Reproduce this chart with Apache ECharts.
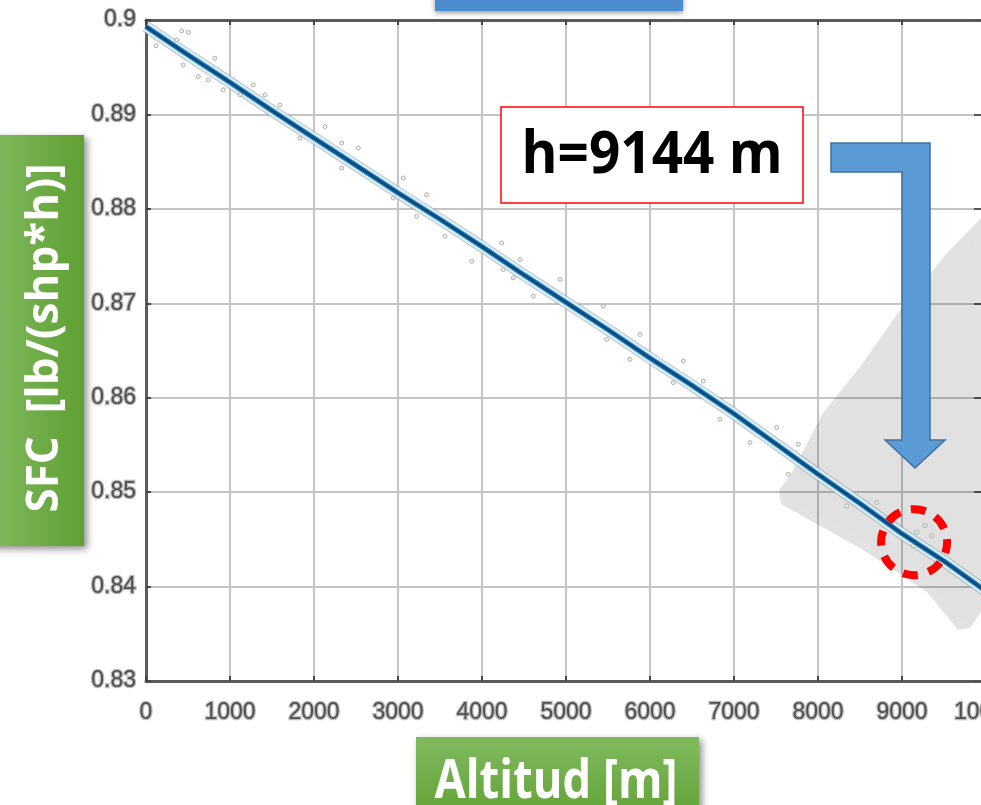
<!DOCTYPE html>
<html>
<head>
<meta charset="utf-8">
<script src="https://cdn.jsdelivr.net/npm/echarts@6/dist/echarts.min.js"></script>
<style>
  html, body { margin: 0; padding: 0; background: #ffffff; overflow: hidden; }
  #chart { width: 981px; height: 805px; }
</style>
</head>
<body>
<div id="chart"></div>
<script>
// Specific fuel consumption versus altitude
const altitudes = [0, 500, 1000, 1500, 2000, 2500, 3000, 3500, 4000, 4500, 5000,
                   5500, 6000, 6500, 7000, 7500, 8000, 8500, 9000, 9500, 10000];
const sfcValues = [0.8993, 0.8963, 0.8934, 0.8904, 0.8875, 0.8846, 0.8817, 0.8789, 0.8760, 0.8730, 0.8701,
                   0.8672, 0.8642, 0.8613, 0.8583, 0.8551, 0.8519, 0.8488, 0.8456, 0.8427, 0.8395];

// Scattered raw samples around the fitted curve
const sampleAlt = [425, 504, 365, 119, 444, 623, 742, 821, 920, 1119, 1417, 1278, 1595, 1833, 2131, 2330,
                   2330, 2528, 2944, 3063, 3341, 3222, 3560, 3877, 4234, 4452, 4254, 4373, 4611, 4929,
                   5444, 5484, 5762, 5881, 6397, 6278, 6635, 6833, 7190, 7508, 7647, 7766, 8342, 8699,
                   9135, 9274, 9354, 9175];
const sampleSfc = [0.89884, 0.89870, 0.89789, 0.89728, 0.89524, 0.89401, 0.89366, 0.89595, 0.89260, 0.89207,
                   0.89207, 0.89313, 0.89101, 0.88749, 0.88872, 0.88697, 0.88432, 0.88644, 0.88115, 0.88327,
                   0.88150, 0.87921, 0.87709, 0.87445, 0.87640, 0.87463, 0.87357, 0.87269, 0.87075, 0.87252,
                   0.86969, 0.86617, 0.86406, 0.86670, 0.86388, 0.86160, 0.86177, 0.85772, 0.85525, 0.85684,
                   0.85190, 0.85507, 0.84855, 0.84891, 0.84432, 0.84644, 0.84538, 0.84574];

const xTicks = { min: 0, max: 10000, step: 1000 };
const yTicks = { min: 0.83, max: 0.9, step: 0.01 };

// Highlighted cruise altitude
const cruiseAltitude = 9144;
const cruiseSfc = 0.8447;
const cruiseLabel = 'h=9144 m';
const xTitle = 'Altitud [m]';
const yTitle = 'SFC  [lb/(shp*h)]';

const curve = altitudes.map((a, i) => [a, sfcValues[i]]);
const samples = sampleAlt.map((a, i) => [a, sampleSfc[i]]);

const chart = echarts.init(document.getElementById('chart'), null, { renderer: 'canvas' });

const tickFont = {
  fontFamily: '"Liberation Sans", Arial, sans-serif',
  fontSize: 23,
  color: '#505050',
  textBorderColor: 'rgba(170,170,170,0.8)',
  textBorderWidth: 2.5
};
const frame = { color: '#5c5c5c', width: 3 };
const tick = { inside: true, length: 5, lineStyle: { color: '#444444', width: 2 } };
const gridLine = { lineStyle: { color: '#c4c4c4', width: 2 } };

chart.setOption({
  animation: false,
  backgroundColor: '#ffffff',
  grid: { left: 146, top: 20, width: 840, height: 661, containLabel: false, outerBoundsMode: 'none' },
  xAxis: [
    {
      type: 'value', min: xTicks.min, max: xTicks.max, interval: xTicks.step, position: 'bottom',
      axisLine: { show: true, onZero: false, lineStyle: frame },
      axisTick: tick,
      axisLabel: Object.assign({ margin: 20, formatter: v => String(v) }, tickFont),
      splitLine: gridLine
    },
    {
      type: 'value', min: xTicks.min, max: xTicks.max, interval: xTicks.step, position: 'top',
      axisLine: { show: true, onZero: false, lineStyle: frame },
      axisTick: tick, axisLabel: { show: false }, splitLine: { show: false }
    }
  ],
  yAxis: [
    {
      type: 'value', min: yTicks.min, max: yTicks.max, interval: yTicks.step, position: 'left',
      axisLine: { show: true, onZero: false, lineStyle: frame },
      axisTick: tick,
      axisLabel: Object.assign({
        margin: 10,
        formatter: v => String(parseFloat(v.toFixed(2)))
      }, tickFont),
      splitLine: gridLine
    },
    {
      type: 'value', min: yTicks.min, max: yTicks.max, interval: yTicks.step, position: 'right',
      axisLine: { show: true, onZero: false, lineStyle: frame },
      axisTick: { inside: true, length: 12, lineStyle: { color: '#555', width: 2 } },
      axisLabel: { show: false }, splitLine: { show: false }
    }
  ],
  series: [
    {
      type: 'line', data: curve, showSymbol: false, silent: true, z: 3,
      lineStyle: { color: 'rgba(150,150,150,0.55)', width: 12 }
    },
    {
      type: 'line', data: curve, showSymbol: false, silent: true, z: 4,
      lineStyle: { color: '#d3eef9', width: 10 }
    },
    {
      type: 'scatter', data: samples, symbolSize: 4, silent: true, z: 5,
      itemStyle: { color: '#f2f0e2', borderColor: '#a0a0a0', borderWidth: 1 }
    },
    {
      type: 'line', data: curve, showSymbol: false, silent: true, z: 6,
      lineStyle: { color: '#2077b4', width: 5 }
    },
    {
      type: 'line', data: curve, showSymbol: false, silent: true, z: 7,
      lineStyle: { color: '#0b4a7c', width: 2.5 }
    }
  ]
});

// Circle around the cruise point, placed through the axes
const c = chart.convertToPixel({ gridIndex: 0 }, [cruiseAltitude, cruiseSfc]);

const green = (horizontal) => new echarts.graphic.LinearGradient(0, 0, horizontal ? 1 : 0, horizontal ? 0 : 1, [
  { offset: 0, color: '#80ba5e' },
  { offset: 1, color: '#5f9f33' }
]);
const shadow = { shadowBlur: 7, shadowOffsetX: 3, shadowOffsetY: 3, shadowColor: 'rgba(0,0,0,0.45)' };

chart.setOption({
  graphic: [
    // soft grey backdrop behind the cruise region
    {
      type: 'polygon', z: 1, silent: true,
      shape: { points: [[781, 504], [779, 490], [790, 476], [823, 413], [860, 367], [900, 310], [947, 253],
                        [981, 218], [981, 612], [970, 628], [958, 630], [927, 592], [860, 548]] },
      style: { fill: 'rgba(0,0,0,0.11)', shadowBlur: 6, shadowColor: 'rgba(0,0,0,0.08)' }
    },
    // partial banner at the top edge
    {
      type: 'rect', z: 20, silent: true,
      shape: { x: 435, y: -20, width: 248, height: 31 },
      style: Object.assign({ fill: '#4a8ccd' }, { shadowBlur: 5, shadowOffsetY: 2, shadowColor: 'rgba(0,0,0,0.4)' })
    },
    // value box
    {
      type: 'rect', z: 20, silent: true,
      shape: { x: 501, y: 107, width: 302, height: 96 },
      style: { fill: '#ffffff', stroke: '#ff0000', lineWidth: 1.5 }
    },
    {
      type: 'text', z: 21, silent: true,
      x: 652, y: 156, scaleX: 0.93,
      style: {
        text: cruiseLabel, fill: '#000000', align: 'center', verticalAlign: 'middle',
        font: 'bold 59px "Open Sans", sans-serif'
      }
    },
    // bent arrow pointing down to the cruise point
    {
      type: 'polygon', z: 20, silent: true,
      shape: { points: [[831, 143], [930, 143], [930, 440], [945, 440], [915, 468], [885, 440],
                        [902, 440], [902, 172], [831, 172]] },
      style: { fill: '#5b9bd5', stroke: '#41719c', lineWidth: 1.5 }
    },
    {
      type: 'circle', z: 20, silent: true,
      shape: { cx: c[0], cy: c[1], r: 33 },
      style: { fill: null, stroke: '#ff0000', lineWidth: 8, lineDash: [15, 11], lineDashOffset: 4 }
    },
    // axis title tags
    {
      type: 'rect', z: 20, silent: true,
      shape: { x: -10, y: 135, width: 94, height: 411 },
      style: Object.assign({ fill: green(true) }, shadow)
    },
    {
      type: 'text', z: 21, silent: true,
      x: 45, y: 338, rotation: Math.PI / 2, scaleX: 1.0,
      style: {
        text: yTitle, fill: '#ffffff', align: 'center', verticalAlign: 'middle',
        font: 'bold 44px "Open Sans", sans-serif'
      }
    },
    {
      type: 'rect', z: 20, silent: true,
      shape: { x: 416, y: 737, width: 283, height: 90 },
      style: Object.assign({ fill: green(false) }, shadow)
    },
    {
      type: 'text', z: 21, silent: true,
      x: 556, y: 783, scaleX: 0.84,
      style: {
        text: xTitle, fill: '#ffffff', align: 'center', verticalAlign: 'middle',
        font: 'bold 54px "Open Sans", sans-serif'
      }
    }
  ]
});
</script>
</body>
</html>
